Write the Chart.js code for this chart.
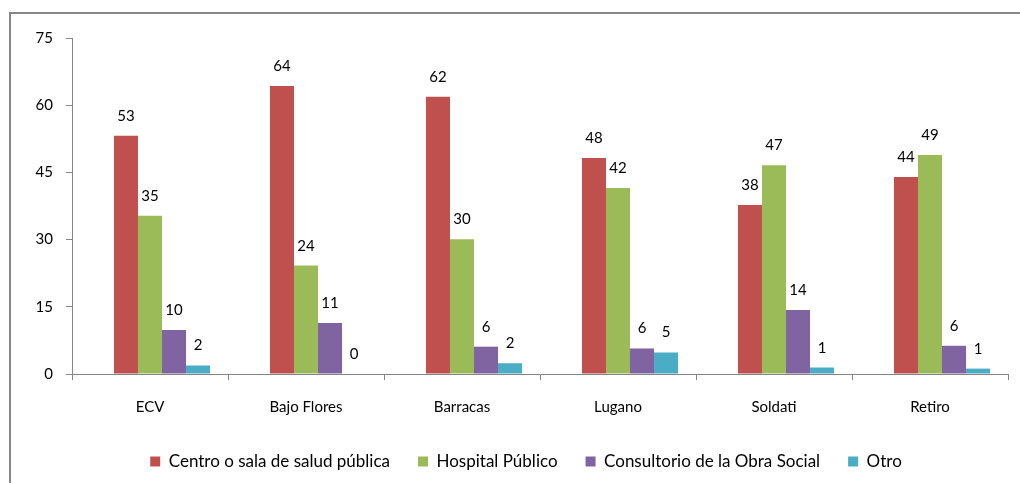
<!DOCTYPE html>
<html lang="es">
<head>
  <meta charset="UTF-8">
  <title>Lugar de atención por barrio</title>
  <script src="https://cdn.jsdelivr.net/npm/chart.js"></script>
  <style>
    html, body { margin: 0; padding: 0; background: #fff; }
    /* marco gris del gráfico (solo se ven el borde superior e izquierdo) */
    #marco { position: absolute; left: 9px; top: 12px; width: 1020px; height: 480px;
             border-top: 2px solid #878787; border-left: 2px solid #878787; }
    #contenedor { position: absolute; left: 0; top: 0; width: 1020px; height: 483px; }
  </style>
</head>
<body>
<div id="marco"></div>
<div id="contenedor"><canvas id="grafico"></canvas></div>
<script>
  // Datos
  const barrios = ['ECV', 'Bajo Flores', 'Barracas', 'Lugano', 'Soldati', 'Retiro'];
  const centroSalud = [53.2, 64.3, 61.9, 48.2, 37.7, 44.0];
  const hospitalPublico = [35.3, 24.2, 30.1, 41.5, 46.6, 48.9];
  const obraSocial = [9.8, 11.4, 6.1, 5.7, 14.3, 6.3];
  const otro = [1.9, 0, 2.4, 4.8, 1.45, 1.2];
  const ticksY = [0, 15, 30, 45, 60, 75];

  const fuente = 'Lato, "Open Sans", sans-serif';
  Chart.defaults.font.family = fuente;
  Chart.defaults.font.size = 15;
  Chart.defaults.color = '#000';

  // etiquetas de valor encima de cada barra
  const etiquetas = {
    id: 'etiquetas',
    afterDatasetsDraw(chart) {
      const ctx = chart.ctx;
      ctx.save();
      ctx.font = '15px ' + fuente;
      ctx.fillStyle = '#000';
      ctx.textAlign = 'center';
      ctx.textBaseline = 'alphabetic';
      chart.data.datasets.forEach((ds, i) => {
        if (!ds.label) return;
        chart.getDatasetMeta(i).data.forEach((bar, j) => {
          ctx.fillText(Math.round(ds.data[j]), bar.x, bar.y - 15);
        });
      });
      ctx.restore();
    }
  };

  // la leyenda del original está algo corrida a la derecha
  const correrLeyenda = {
    id: 'correrLeyenda',
    afterLayout(chart) {
      chart.legend.left += 22;
      chart.legend.right += 22;
    }
  };

  const datos = {
    labels: barrios,
    datasets: [
      // serie vacía, como en el original (desplaza el grupo de barras)
      { label: '', data: barrios.map(() => null), backgroundColor: 'rgba(0,0,0,0)' },
      { label: 'Centro o sala de salud pública', data: centroSalud, backgroundColor: '#C0504D' },
      { label: 'Hospital Público', data: hospitalPublico, backgroundColor: '#9BBB59' },
      { label: 'Consultorio de la Obra Social', data: obraSocial, backgroundColor: '#8064A2' },
      { label: 'Otro', data: otro, backgroundColor: '#4BACC6' }
    ]
  };

  const config = {
    type: 'bar',
    data: datos,
    options: {
      responsive: true,
      maintainAspectRatio: false,
      animation: false,
      categoryPercentage: 0.77,
      barPercentage: 1,
      layout: { padding: { top: 38, right: 12, left: 0, bottom: 3 } },
      plugins: {
        legend: {
          position: 'bottom',
          labels: {
            boxWidth: 10,
            boxHeight: 10,
            padding: 28,
            font: { size: 17 },
            filter: item => item.text !== ''
          }
        },
        tooltip: { enabled: false }
      },
      scales: {
        x: {
          grid: { drawOnChartArea: false, tickLength: 6, color: '#868686' },
          border: { color: '#868686' },
          ticks: { padding: 18 },
          afterFit: scale => { scale.height = 51; }
        },
        y: {
          min: ticksY[0],
          max: ticksY[ticksY.length - 1],
          afterBuildTicks: scale => { scale.ticks = ticksY.map(v => ({ value: v })); },
          grid: { drawOnChartArea: false, tickLength: 6, color: '#868686' },
          border: { color: '#868686' },
          ticks: { padding: 13 },
          afterFit: scale => { scale.width = 72; }
        }
      }
    },
    plugins: [etiquetas, correrLeyenda]
  };

  const grafico = new Chart(document.getElementById('grafico'), config);
</script>
</body>
</html>
